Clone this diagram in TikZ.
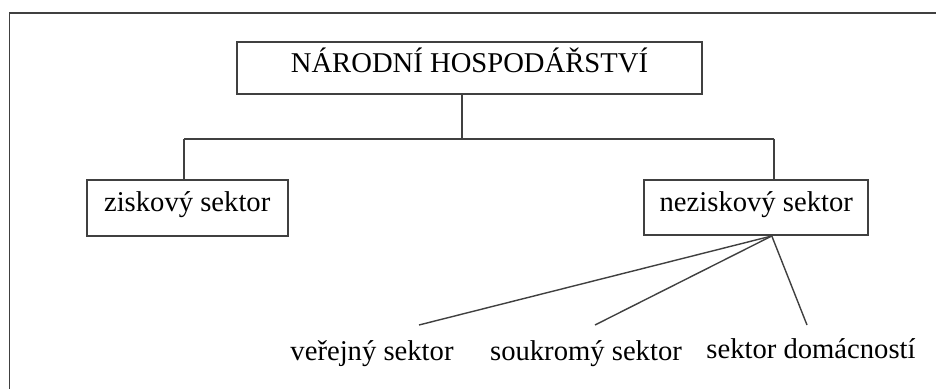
\documentclass[tikz,border=0pt]{standalone}
\usepackage{fontspec}
\setmainfont{Liberation Serif}
\begin{document}
\begin{tikzpicture}[x=0.2mm,y=-0.2mm,
  txt/.style={font=\fontsize{16.3}{19}\selectfont},
  box/.style={txt,draw=black!75,line width=1.1pt,inner sep=0pt,text height=0.72em,text depth=0.25em},
  link/.style={draw=black!75,line width=1.1pt},
  fanline/.style={draw=black!75,line width=0.8pt}]
\useasboundingbox (0,0) rectangle (936,389);
\draw[link] (9.5,389) -- (9.5,12.7) -- (936,12.7);

\node[box,minimum width=92.9mm,minimum height=10.3mm] (nh) at (469.5,68.2) {NÁRODNÍ HOSPODÁŘSTVÍ};
\node[box,minimum width=40.2mm,minimum height=11.1mm] (zisk) at (187.2,207.8) {ziskový sektor};
\node[box,minimum width=44.8mm,minimum height=11mm] (nezisk) at (756.3,207.5) {neziskový sektor};

\coordinate (hub) at (462,138.7);
\coordinate (zl) at (184,138.7);
\coordinate (nl) at (774,138.7);
\draw[link] (nh.south -| hub) -- (hub);
\draw[link] (zl) -- (nl);
\draw[link] (zl) -- (zl |- zisk.north);
\draw[link] (nl) -- (nl |- nezisk.north);

% neziskovy sektor
\path (nezisk.south) ++(15.5,0) coordinate (fan);
\node[txt,anchor=base] (ver) at (372,360.5) {veřejný sektor};
\node[txt,anchor=base] (souk) at (586,360.5) {soukromý sektor};
\node[txt,anchor=base] (dom) at (811,358.5) {sektor domácností};
\coordinate (verend) at (419,325);
\coordinate (soukend) at (595,325);
\coordinate (domend) at (807,325);
\foreach \e in {verend,soukend,domend} {
\draw[fanline] (fan) -- (\e);
}
\end{tikzpicture}
\end{document}
